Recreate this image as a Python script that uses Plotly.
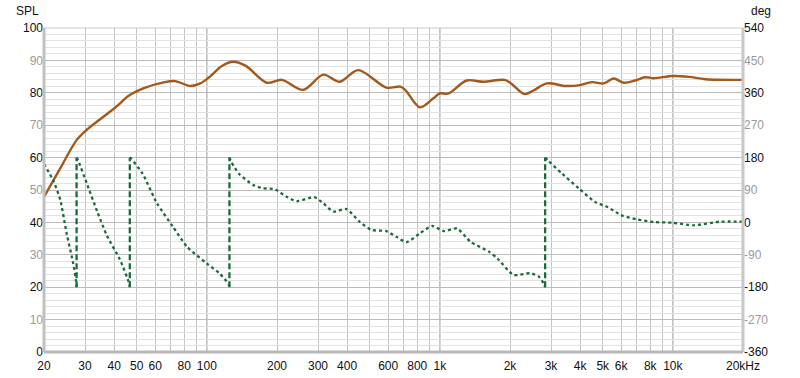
import numpy as np
import plotly.graph_objects as go

# ---------------- data ----------------
spl_freq = [20, 23.4, 27.6, 30.5, 33.9, 38, 42.2, 46, 54, 66, 73, 85, 93.7, 103, 116, 130, 147,
            181, 210, 259, 316, 372, 446, 590, 676, 710, 822, 938, 1000, 1088, 1304, 1536,
            1893, 2022, 2310, 2520, 2880, 3460, 3940, 4500, 5050, 5570, 6150, 6880, 7590,
            8280, 9990, 11750, 13800, 20000]
spl_db = [47.9, 56.5, 65.4, 68.6, 71.2, 73.9, 76.6, 79.0, 81.5, 83.3, 83.6, 82.1, 82.9, 85.0,
          88.3, 89.6, 88.3, 83.1, 84.0, 80.9, 85.6, 83.4, 87.0, 81.6, 81.9, 80.9, 75.5, 78.3,
          79.8, 79.8, 83.8, 83.4, 84.0, 82.9, 79.6, 80.7, 82.9, 82.1, 82.3, 83.3, 82.9, 84.4,
          83.1, 83.8, 84.8, 84.5, 85.2, 84.9, 84.2, 84.0]

# phase, split at the +/-180 wraps
phase_seg_freq = [
    [20, 21.9, 23.5, 25, 26.7, 27.4, 27.6],
    [27.6, 28, 30.5, 33.9, 37.2, 42.4, 46.5, 46.7],
    [46.7, 47.2, 52.9, 61.1, 71.5, 82.3, 99.9, 113, 124, 125],
    [125, 127, 137, 158, 174, 196, 220, 243, 289, 316, 349, 397, 452, 509, 588, 651, 719,
     822, 929, 1039, 1185, 1355, 1622, 1765, 2074, 2440, 2665, 2810, 2830],
    [2830, 2900, 3340, 3940, 4630, 5270, 6000, 7050, 8290, 9990, 12280, 15900, 20000],
]
phase_seg_deg = [
    [162, 117, 62, -30, -114, -160, -180],
    [180, 173, 109, 29, -36, -104, -171, -180],
    [180, 178, 136, 53, -12, -68, -114, -141, -171, -180],
    [180, 169, 136, 104, 95, 92, 71, 59, 70, 53, 30, 37, 2, -21, -24, -40, -55,
     -30, -10, -24, -17, -54, -81, -100, -146, -141, -151, -174, -180],
    [180, 173, 136, 95, 57, 42, 20, 8, 1, -1, -8, 2, 2],
]
wrap_freq = [27.6, 46.7, 125, 2830]

x_tickvals = [20, 30, 40, 50, 60, 80, 100, 200, 300, 400, 600, 800, 1000, 2000, 3000, 4000,
              5000, 6000, 8000, 10000, 20000]
x_ticktext = ['20', '30', '40', '50', '60', '80', '100', '200', '300', '400', '600', '800',
              '1k', '2k', '3k', '4k', '5k', '6k', '8k', '10k', '20kHz']
spl_ticks = list(range(0, 101, 10))
deg_ticks = list(range(-360, 541, 90))

# ---------------- style ----------------
BROWN = '#a3581c'
GREEN = '#1c6a3c'
GRAY_LBL = '#9a9a9a'
FONT = 'Liberation Sans'

fig = go.Figure()

fig.add_trace(go.Scatter(x=spl_freq, y=spl_db, mode='lines',
                         line=dict(color=BROWN, width=2.4, shape='spline', smoothing=0.9),
                         hoverinfo='skip', showlegend=False))

for fx, dg in zip(phase_seg_freq, phase_seg_deg):
    fig.add_trace(go.Scatter(x=fx, y=dg, mode='lines', yaxis='y2',
                             line=dict(color=GREEN, width=2.3, dash='dot', shape='spline', smoothing=0.6),
                             hoverinfo='skip', showlegend=False))
for wf in wrap_freq:
    fig.add_trace(go.Scatter(x=[wf, wf], y=[-180, 180], mode='lines', yaxis='y2',
                             line=dict(color=GREEN, width=2.3, dash='6px,3px'),
                             hoverinfo='skip', showlegend=False))

def lbl(v, i):
    return str(v) if i % 2 == 0 else f'<span style="color:{GRAY_LBL}">{v}</span>'

# all vertical grid positions
grid_x = []
for k in range(1, 5):
    for d in range(1, 10):
        v = d * 10 ** k
        if 20 <= v <= 20000:
            grid_x.append(v)

fig.update_layout(
    width=800, height=378,
    margin=dict(l=44, r=57, t=28, b=26, autoexpand=False),
    paper_bgcolor='white', plot_bgcolor='white',
    font=dict(family=FONT, size=12, color='#111'),
    xaxis=dict(type='log', range=[np.log10(20), np.log10(20000)], automargin=False,
               tickmode='array', tickvals=x_tickvals, ticktext=x_ticktext,
               showgrid=False, zeroline=False, ticks='', ticklen=0, ticklabelstandoff=5,
               tickfont=dict(size=12, color='#111'),
               minor=dict(tickmode='array', tickvals=grid_x, showgrid=True,
                          gridcolor='#c4c4c4', gridwidth=1, ticks='')),
    yaxis=dict(range=[0, 100], tickmode='array', tickvals=spl_ticks, automargin=False,
               ticktext=[lbl(v, i) for i, v in enumerate(spl_ticks)],
               showgrid=True, gridcolor='#bcbcbc', gridwidth=1, zeroline=False,
               ticks='', tickfont=dict(size=12, color='#111'),
               minor=dict(dtick=2, showgrid=True, gridcolor='#e2e2e2', gridwidth=1)),
    yaxis2=dict(range=[-360, 540], overlaying='y', side='right', tickmode='array',
                automargin=False,
                tickvals=deg_ticks, ticktext=[lbl(v, i) for i, v in enumerate(deg_ticks)],
                showgrid=False, zeroline=False, ticks='',
                tickfont=dict(size=12, color='#111')),
)

# decade lines (darker)
for dec in [100, 1000, 10000]:
    fig.add_shape(type='line', xref='x', yref='paper', x0=dec, x1=dec, y0=0, y1=1,
                  line=dict(color='#8a8a8a', width=1), layer='below')

# plot frame
fig.add_shape(type='line', xref='paper', yref='paper', x0=0, x1=1, y0=1, y1=1,
              line=dict(color='#c8c8c8', width=1))
fig.add_shape(type='line', xref='paper', yref='paper', x0=0, x1=0, y0=0, y1=1,
              line=dict(color='#c0c0c0', width=3))
fig.add_shape(type='line', xref='paper', yref='paper', x0=1, x1=1, y0=0, y1=1,
              line=dict(color='#c8c8c8', width=3))
fig.add_shape(type='line', xref='paper', yref='paper', x0=0, x1=1, y0=0, y1=0,
              line=dict(color='#b8b8b8', width=3))

fig.add_annotation(text='SPL', xref='paper', yref='paper', x=-0.005, y=1.0, yshift=8,
                   xanchor='right', yanchor='bottom', showarrow=False,
                   font=dict(size=12, color='#111'))
fig.add_annotation(text='deg', xref='paper', yref='paper', x=1.0, y=1.0, xshift=6, yshift=8,
                   xanchor='left', yanchor='bottom', showarrow=False,
                   font=dict(size=12, color='#111'))

fig.write_html('out.html', config={'displayModeBar': False, 'staticPlot': True},
               post_script="document.body.style.margin='0px';document.body.style.overflow='hidden';")
